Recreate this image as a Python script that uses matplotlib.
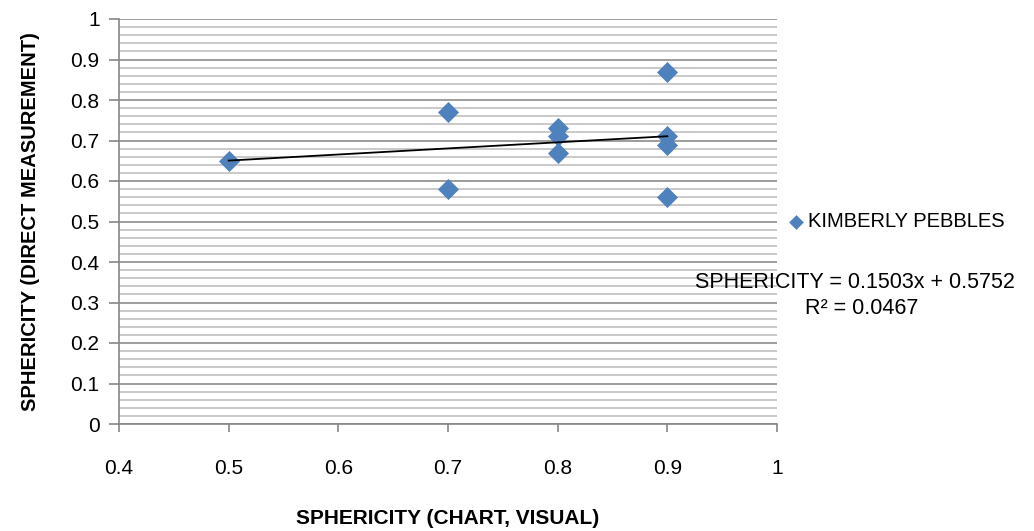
import numpy as np
import matplotlib
matplotlib.use("Agg")
import matplotlib.pyplot as plt
from matplotlib.ticker import MultipleLocator

plt.rcParams['font.family'] = ["Liberation Sans", "DejaVu Sans"]

x_visual = [0.5, 0.7, 0.7, 0.8, 0.8, 0.8, 0.9, 0.9, 0.9, 0.9]
y_direct = [0.65, 0.77, 0.58, 0.73, 0.71, 0.67, 0.87, 0.71, 0.69, 0.56]
series_name = "KIMBERLY PEBBLES"
x_ticks = [0.4, 0.5, 0.6, 0.7, 0.8, 0.9, 1.0]
x_tick_labels = ["0.4", "0.5", "0.6", "0.7", "0.8", "0.9", "1"]
y_ticks = [0, 0.1, 0.2, 0.3, 0.4, 0.5, 0.6, 0.7, 0.8, 0.9, 1.0]
y_tick_labels = ["0", "0.1", "0.2", "0.3", "0.4", "0.5", "0.6", "0.7", "0.8", "0.9", "1"]

W, H = 1034, 531
fig = plt.figure(figsize=(W/100, H/100), dpi=100)
ax = fig.add_axes([119/W, 1-424/H, (777-119)/W, (424-19)/H])
ax.set_xlim(0.4, 1.0)
ax.set_ylim(0, 1.0)

ax.yaxis.set_minor_locator(MultipleLocator(0.02))
ax.set_yticks(y_ticks)
ax.set_yticklabels(y_tick_labels)
ax.set_xticks(x_ticks)
ax.set_xticklabels(x_tick_labels)
ax.grid(axis='y', which='major', color='#8c8c8c', linewidth=1.2, zorder=0)
ax.grid(axis='y', which='minor', color='#c0c0c0', linewidth=1.2, zorder=0)
ax.set_axisbelow(True)

for s in ['top', 'right']:
    ax.spines[s].set_visible(False)
for s in ['left', 'bottom']:
    ax.spines[s].set_color('#868686')
    ax.spines[s].set_linewidth(1.2)
ax.tick_params(axis='y', which='major', length=7, color='#868686', width=1.2, labelsize=15, pad=7)
ax.tick_params(axis='y', which='minor', length=0)
ax.tick_params(axis='x', which='major', length=6, color='#868686', width=1.2, labelsize=15, pad=19)

ax.scatter(x_visual, y_direct, marker='D', s=115, color='#4F81BD', zorder=3, linewidths=0,
           label=series_name, clip_on=False)

slope, intercept = np.polyfit(x_visual, y_direct, 1)
xs = np.array([min(x_visual), max(x_visual)])
ax.plot(xs, slope*xs + intercept, color='black', linewidth=1.3, zorder=4)
yp = np.array(y_direct); yh = slope*np.array(x_visual) + intercept
r2 = 1 - np.sum((yp-yh)**2)/np.sum((yp-yp.mean())**2)

fig.text(448/W, 1-518/H, "SPHERICITY (CHART, VISUAL)", fontsize=15, fontweight='bold',
         ha='center', va='center')
fig.text(31/W, 1-222/H, "SPHERICITY (DIRECT MEASUREMENT)", fontsize=14.5, fontweight='bold',
         ha='center', va='center', rotation=90)

fig.legend(loc='center left', bbox_to_anchor=(786/W, 1-222/H), frameon=False,
           fontsize=14.5, handlelength=1.0, handletextpad=0.1, markerscale=0.7, borderaxespad=0,
           borderpad=0)
fig.text(855/W, 1-282/H, f"SPHERICITY = {slope:.4f}x + {intercept:.4f}", fontsize=15.5,
         ha='center', va='center')
fig.text(862/W, 1-308/H, f"R² = {r2:.4f}", fontsize=15.5, ha='center', va='center')

fig.savefig("out.png", dpi=100)
